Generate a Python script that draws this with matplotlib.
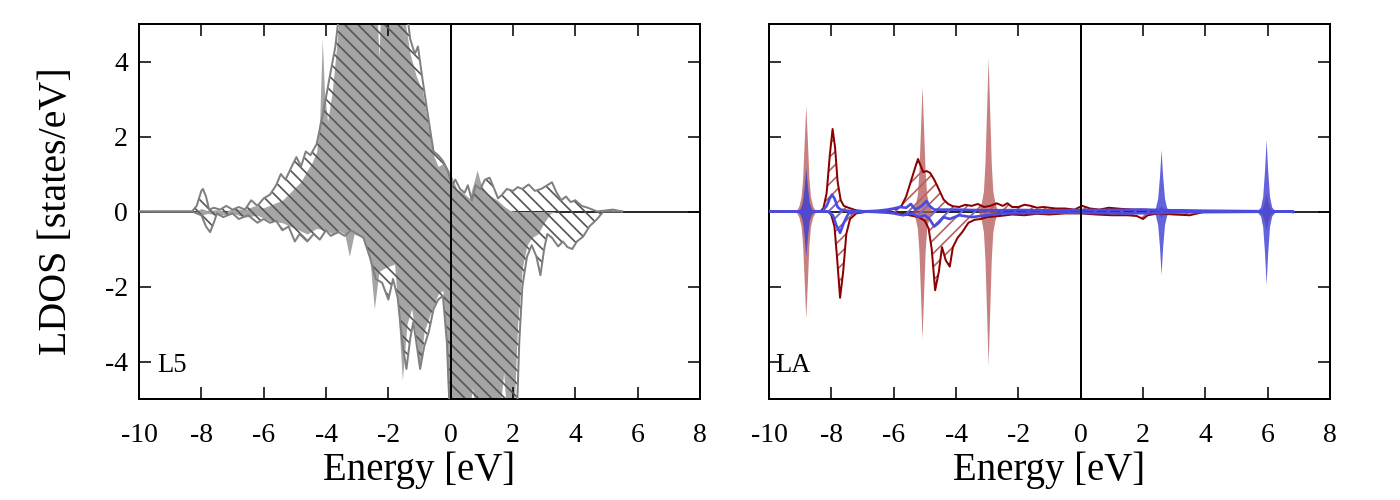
"""Spin-resolved LDOS for the L5 and LA sites, two panels side by side."""

import matplotlib.pyplot as plt

plt.rcParams["font.family"] = ["Liberation Serif", "DejaVu Serif"]
plt.rcParams["axes.unicode_minus"] = False
plt.rcParams["hatch.linewidth"] = 1.5

# ---- L5 panel ---------------------------------------------------------
# solid grey fill (reference structure)
l5_fill_up_e = [-10, -8.2, -8.0, -7.8, -7.5, -7.2, -7.0, -6.6, -6.3, -6.0, -5.7, -5.4,
                -5.1, -4.8, -4.6, -4.45, -4.3, -4.2, -4.12, -4.05, -3.95, -3.8, -3.65,
                -3.5, -2.4, -2.3, -2.22, -2.1, -1.6, -1.45, -1.3, -1.1, -0.9, -0.7,
                -0.55, -0.4, -0.2, 0.0, 0.2, 0.4, 0.6, 0.75, 0.85, 0.95, 1.1, 1.3, 1.5,
                1.7, 1.9, 2.1]
l5_fill_up = [0, 0, 0.08, 0.02, 0.05, 0.0, 0.08, 0.05, 0.15, 0.1, 0.2, 0.3,
              0.55, 0.8, 1.1, 1.3, 1.6, 2.5, 4.6, 3.2, 2.4, 3.2, 4.5,
              6.0, 6.0, 4.1, 6.0, 6.0, 6.0, 5.0, 4.2, 3.6, 3.2, 2.2,
              1.5, 1.2, 1.3, 1.0, 0.6, 0.5, 0.35, 0.8, 1.1, 0.8, 0.5, 0.4, 0.3,
              0.15, 0.03, 0]
l5_fill_dn_e = [-10, -8.2, -8.0, -7.8, -7.4, -7.0, -6.6, -6.2, -5.8, -5.4, -5.0, -4.6,
                -4.3, -4.0, -3.8, -3.6, -3.4, -3.25, -3.1, -2.8, -2.6, -2.45, -2.3,
                -2.1, -1.8, -1.7, -1.55, -1.4, -1.25, -1.1, -1.0, -0.85, -0.6, -0.4,
                -0.25, -0.15, -0.05, 0.5, 0.7, 0.9, 1.5, 1.7, 1.85, 2.0, 2.15, 2.3,
                2.45, 2.6, 2.8, 3.0, 3.2, 3.4]
l5_fill_dn = [0, 0, -0.1, -0.05, -0.1, -0.05, -0.15, -0.1, -0.25, -0.3, -0.45, -0.6,
              -0.45, -0.5, -0.6, -0.5, -0.6, -1.2, -0.6, -0.7, -1.2, -2.6, -1.6,
              -1.5, -1.4, -2.5, -4.5, -3.0, -2.6, -3.4, -4.2, -3.2, -2.6, -2.2,
              -2.1, -3.5, -6.0, -6.0, -4.7, -6.0, -6.0, -4.3, -6.0, -6.0, -3.0, -1.5,
              -0.9, -0.7, -0.6, -0.3, -0.05, 0]

# hatched outline (grey line, "\\" hatch)
l5_hatch_up_e = [-10, -8.3, -8.15, -8.0, -7.95, -7.85, -7.75, -7.6, -7.4, -7.2, -7.0,
                 -6.8, -6.6, -6.4, -6.2, -6.0, -5.8, -5.6, -5.45, -5.3, -5.1, -4.95,
                 -4.8, -4.65, -4.5, -4.3, -4.1, -3.9, -3.7, -3.55, -3.4, -1.5, -1.3,
                 -1.15, -1.05, -0.9, -0.7, -0.55, -0.4, -0.25, -0.1, 0.05, 0.15, 0.3,
                 0.45, 0.55, 0.68, 0.8, 0.95, 1.1, 1.25, 1.4, 1.52, 1.65, 1.8, 2.0,
                 2.15, 2.3, 2.5, 2.7, 2.9, 3.1, 3.25, 3.4, 3.55, 3.7, 3.85, 4.0, 4.2,
                 4.4, 4.7, 4.9, 5.2, 5.5]
l5_hatch_up = [0, 0, 0.15, 0.55, 0.6, 0.4, 0.05, 0.1, 0.05, 0.15, 0.05,
               0.12, 0.05, 0.3, 0.15, 0.35, 0.45, 0.7, 1.0, 0.85, 1.2, 1.45,
               1.2, 1.6, 1.5, 1.8, 2.6, 3.5, 4.4, 5.5, 6.0, 6.0, 4.6,
               4.2, 4.4, 3.5, 2.4, 1.6, 1.5, 1.35, 1.1, 0.7, 0.85, 0.6,
               0.5, 0.7, 0.3, 0.7, 0.6, 0.85, 0.9, 0.6, 0.35, 0.45, 0.6, 0.55,
               0.65, 0.6, 0.72, 0.55, 0.6, 0.7, 0.78, 0.5, 0.3, 0.4, 0.25, 0.3, 0.15,
               0.1, 0.0, 0.02, 0.05, 0]
l5_hatch_dn_e = [-10, -8.3, -8.0, -7.85, -7.72, -7.6, -7.5, -7.3, -7.0, -6.8, -6.5,
                 -6.2, -6.0, -5.8, -5.6, -5.4, -5.2, -5.0, -4.85, -4.6, -4.4, -4.2,
                 -4.0, -3.85, -3.6, -3.4, -3.2, -3.0, -2.8, -2.6, -2.4, -2.2, -2.0,
                 -1.85, -1.7, -1.55, -1.42, -1.3, -1.2, -1.1, -0.98, -0.85, -0.7,
                 -0.55, -0.4, -0.25, -0.12, 0.0, 2.1, 2.2, 2.3, 2.45, 2.6, 2.75, 2.88,
                 3.0, 3.1, 3.25, 3.45, 3.6, 3.75, 3.9, 4.05, 4.25, 4.45, 4.7, 4.9, 5.5]
l5_hatch_dn = [0, 0, -0.1, -0.4, -0.55, -0.3, -0.05, -0.15, -0.05, -0.2, -0.1,
               -0.3, -0.2, -0.3, -0.25, -0.5, -0.4, -0.8, -0.6, -0.8, -0.6, -0.75,
               -0.5, -0.65, -0.55, -0.65, -0.5, -0.6, -0.7, -1.2, -1.8, -1.9, -2.35,
               -1.8, -2.3, -3.5, -4.2, -3.4, -2.95, -3.5, -4.2, -3.6, -3.2,
               -2.6, -2.35, -2.25, -3.5, -6.0, -6.0, -3.5, -2.0, -1.2, -0.9, -1.2, -1.7,
               -1.0, -0.6, -0.7, -0.93, -0.8, -0.95, -1.0, -0.8, -0.67, -0.4, -0.2, 0.0, 0]

# ---- LA panel ---------------------------------------------------------
# narrow filled peaks, brown (reference) and blue (second species)
la_brown_e = [-10, -9.14, -9.04, -8.97, -8.92, -8.87, -8.82, -8.77, -8.72, -8.67, -8.60, -8.50,
              -5.41, -5.31, -5.24, -5.19, -5.14, -5.09, -5.04, -4.99, -4.94, -4.87, -4.77,
              -3.29, -3.19, -3.12, -3.07, -3.02, -2.97, -2.92, -2.87, -2.82, -2.75, -2.65,
              2.35, 2.48, 2.58, 2.68, 2.81,
              5.70, 5.82, 5.89, 5.95, 6.01, 6.08, 6.20, 8]
la_brown_up = [0, 0, 0.15, 0.4, 0.9, 1.9, 2.83, 1.9, 0.9, 0.4, 0.15, 0,
               0, 0.18, 0.45, 1.05, 2.2, 3.34, 2.2, 1.05, 0.45, 0.18, 0,
               0, 0.22, 0.55, 1.3, 2.7, 4.1, 2.7, 1.3, 0.55, 0.22, 0,
               0, 0.05, 0.15, 0.05, 0,
               0, 0.08, 0.25, 0.47, 0.25, 0.08, 0, 0]
la_brown_dn = [0, 0, -0.15, -0.4, -0.9, -1.9, -2.85, -1.9, -0.9, -0.4, -0.15, 0,
               0, -0.18, -0.45, -1.05, -2.2, -3.4, -2.2, -1.05, -0.45, -0.18, 0,
               0, -0.22, -0.55, -1.3, -2.7, -4.1, -2.7, -1.3, -0.55, -0.22, 0,
               0, -0.05, -0.15, -0.05, 0,
               0, -0.08, -0.25, -0.48, -0.25, -0.08, 0, 0]
la_blue_e = [-10.0, -9.10, -9.00, -8.93, -8.87, -8.82, -8.77, -8.71, -8.64, -8.54,
             2.28, 2.40, 2.47, 2.53, 2.58, 2.63, 2.69, 2.76, 2.88,
             5.65, 5.77, 5.84, 5.90, 5.95, 6.00, 6.06, 6.13, 6.25,
             6.72, 6.80, 6.88, 8.00]
la_blue_up = [0.00, 0.00, 0.08, 0.25, 0.70, 1.17, 0.70, 0.25, 0.08, 0.00,
              0.00, 0.10, 0.35, 0.95, 1.65, 0.95, 0.35, 0.10, 0.00,
              0.00, 0.12, 0.40, 1.10, 1.92, 1.10, 0.40, 0.12, 0.00,
              0.00, 0.05, 0.00, 0.00]
la_blue_dn = [0.00, 0.00, -0.08, -0.25, -0.70, -1.20, -0.70, -0.25, -0.08, 0.00,
              0.00, -0.10, -0.35, -0.95, -1.68, -0.95, -0.35, -0.10, 0.00,
              0.00, -0.12, -0.40, -1.10, -1.95, -1.10, -0.40, -0.12, 0.00,
              0.00, -0.05, 0.00, 0.00]

# hatched outlines (dark red and blue)
la_red_up_e = [-10, -8.35, -8.25, -8.15, -8.05, -7.96, -7.88, -7.8, -7.7, -7.6, -7.45,
               -7.2, -6.8, -6.4, -6.1, -5.9, -5.75, -5.6, -5.45, -5.3, -5.22, -5.15,
               -5.05, -4.95, -4.83, -4.7, -4.6, -4.5, -4.4, -4.25, -4.1, -3.9, -3.7,
               -3.5, -3.3, -3.1, -2.9, -2.7, -2.5, -2.35, -2.2, -2.0, -1.8, -1.6,
               -1.4, -1.2, -1.0, -0.8, -0.5, -0.2, 0.05, 0.3, 0.6, 0.9, 1.3, 1.7,
               2.0, 2.5, 3.0, 3.5, 4.0, 6.8]
la_red_up = [0, 0, 0.1, 0.5, 1.5, 2.2, 1.7, 0.8, 0.3, 0.15, 0.1,
             0.03, 0.0, 0.02, 0.05, 0.08, 0.15, 0.4, 0.8, 1.2, 1.4, 1.25,
             1.05, 1.08, 1.03, 0.85, 0.68, 0.5, 0.32, 0.2, 0.14, 0.12, 0.18,
             0.15, 0.2, 0.12, 0.15, 0.22, 0.15, 0.22, 0.12, 0.12, 0.18, 0.15,
             0.1, 0.12, 0.1, 0.08, 0.08, 0.05, 0.15, 0.08, 0.05, 0.1, 0.07, 0.05,
             0.05, 0.03, 0.04, 0.02, 0, 0]
la_red_dn_e = [-10, -8.1, -8.0, -7.9, -7.82, -7.72, -7.62, -7.52, -7.4, -7.2, -6.8,
               -6.2, -5.8, -5.5, -5.2, -5.0, -4.88, -4.78, -4.67, -4.55, -4.45, -4.33,
               -4.2, -4.1, -3.95, -3.8, -3.6, -3.4, -3.2, -3.0, -2.6, -2.2, -1.8,
               -1.4, -1.0, -0.5, 0.0, 0.5, 1.0, 1.5, 1.8, 2.0, 2.15, 2.5, 3.0, 3.5,
               4.0, 6.8]
la_red_dn = [0, 0, -0.1, -0.4, -1.2, -2.3, -1.6, -0.6, -0.2, -0.05, 0,
             -0.03, -0.05, -0.1, -0.15, -0.25, -0.45, -1.0, -2.1, -1.6, -0.95, -1.3,
             -1.47, -0.95, -0.7, -0.55, -0.3, -0.22, -0.2, -0.15, -0.12, -0.08, -0.1,
             -0.06, -0.08, -0.05, -0.05, -0.08, -0.1, -0.1, -0.12, -0.2, -0.1, -0.05,
             -0.08, -0.1, 0, 0]
la_blue_up_e = [-10, -8.3, -8.15, -8.05, -7.98, -7.9, -7.8, -7.7, -7.5, -7.0, -6.5,
                -6.2, -6.0, -5.8, -5.6, -5.45, -5.3, -5.1, -4.95, -4.85, -4.7, -4.5,
                -4.0, -3.5, -3.0, -2.0, -1.0, 0.0, 1.0, 2.0, 3.0, 4.0, 6.8]
la_blue_up_line = [0, 0, 0.15, 0.35, 0.45, 0.35, 0.12, 0.05, 0.02, 0, 0.02,
                   0.05, 0.08, 0.12, 0.1, 0.2, 0.05, 0.15, 0.28, 0.15, 0.05, 0.05,
                   0.05, 0.04, 0.03, 0.04, 0.03, 0.04, 0.04, 0.05, 0.03, 0.02, 0]
la_blue_dn_e = [-10, -8.1, -7.95, -7.85, -7.72, -7.6, -7.45, -7.0, -6.3, -6.0, -5.7,
                -5.4, -5.2, -5.0, -4.85, -4.7, -4.55, -4.4, -4.2, -3.9, -3.5, -3.0,
                -2.5, -1.5, -0.5, 0.5, 1.5, 2.5, 3.5, 6.8]
la_blue_dn_line = [0, 0, -0.1, -0.35, -0.57, -0.3, -0.05, 0, -0.02, -0.05, -0.1,
                   -0.05, -0.15, -0.1, -0.2, -0.4, -0.3, -0.15, -0.2, -0.1, -0.15, -0.1,
                   -0.05, -0.04, -0.03, -0.04, -0.05, -0.04, -0.02, 0]

x_ticks = [-10, -8, -6, -4, -2, 0, 2, 4, 6, 8]
y_ticks = [-4, -2, 0, 2, 4]

DPI = 80
fig = plt.figure(figsize=(1400 / DPI, 500 / DPI), dpi=DPI)
ax_l = fig.add_axes([0.0993, 0.202, 0.4007, 0.75])
ax_r = fig.add_axes([0.5493, 0.202, 0.4007, 0.75])


def style_axes(ax, show_ylabels):
    ax.set_xlim(-10, 8)
    ax.set_ylim(-5, 5)
    ax.set_xticks(x_ticks)
    ax.set_yticks(y_ticks)
    ax.tick_params(direction="in", length=11, width=1.4, top=True, right=True,
                   labelsize=25, pad=10)
    ax.tick_params(axis="x", pad=22)
    if not show_ylabels:
        ax.tick_params(labelleft=False)
    for sp in ax.spines.values():
        sp.set_linewidth(1.8)
    ax.axhline(0, color="black", lw=1.5, zorder=0.5)
    ax.axvline(0, color="black", lw=1.8, zorder=5)
    ax.set_xlabel("Energy [eV]", fontsize=35, labelpad=3)


def fill_pair(ax, e, up, dn, **kw):
    ax.fill_between(e, 0, up, **kw)
    ax.fill_between(e, dn, 0, **kw)


# left panel
grey_fill = "#a5a5a5"
grey_line = "#808080"
ax_l.fill_between(l5_fill_up_e, 0, l5_fill_up, color=grey_fill, lw=0, zorder=1)
ax_l.fill_between(l5_fill_dn_e, l5_fill_dn, 0, color=grey_fill, lw=0, zorder=1)
for e, v in ((l5_hatch_up_e, l5_hatch_up), (l5_hatch_dn_e, l5_hatch_dn)):
    ax_l.fill_between(e, 0, v, facecolor="none", edgecolor="#555555",
                      hatch="\\\\", lw=0, zorder=2)
    ax_l.plot(e, v, color=grey_line, lw=1.8, zorder=3)
style_axes(ax_l, True)
ax_l.set_ylabel("LDOS [states/eV]", fontsize=36, labelpad=27)
ax_l.text(0.032, 0.09, "L5", transform=ax_l.transAxes, fontsize=24,
          va="center", ha="left")

# right panel
fill_pair(ax_r, la_brown_e, la_brown_up, la_brown_dn,
          color="#b35555", alpha=0.75, lw=0, zorder=1)
fill_pair(ax_r, la_blue_e, la_blue_up, la_blue_dn,
          color="#3c3cd2", alpha=0.8, lw=0, zorder=1.5)
for e, v in ((la_red_up_e, la_red_up), (la_red_dn_e, la_red_dn)):
    ax_r.fill_between(e, 0, v, facecolor="none", edgecolor="#b86060",
                      hatch="//", lw=0, zorder=2)
    ax_r.plot(e, v, color="#8b0000", lw=1.8, zorder=3)
for e, v in ((la_blue_up_e, la_blue_up_line), (la_blue_dn_e, la_blue_dn_line)):
    ax_r.fill_between(e, 0, v, facecolor="none", edgecolor="#7070e0",
                      hatch="//", lw=0, zorder=2)
    ax_r.plot(e, v, color="#4b4be0", lw=2.4, zorder=4)
style_axes(ax_r, False)
ax_r.text(0.011, 0.09, "LA", transform=ax_r.transAxes, fontsize=24,
          va="center", ha="left")

fig.savefig("out.png", dpi=DPI)
